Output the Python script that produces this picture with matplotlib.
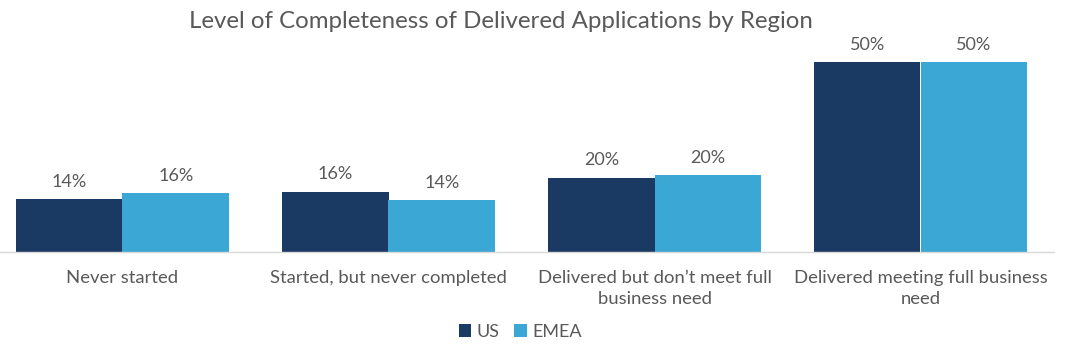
import numpy as np
import matplotlib.pyplot as plt

categories = ["Never started", "Started, but never completed",
              "Delivered but don\u2019t meet full\nbusiness need",
              "Delivered meeting full business\nneed"]
us = [13.9, 15.9, 19.6, 50.0]
emea = [15.6, 13.6, 20.3, 50.0]

navy = "#1B3A63"
blue = "#3BA7D4"
grey = "#595959"

plt.rcParams['font.family'] = ['Lato', 'DejaVu Sans']

fig = plt.figure(figsize=(10.75, 3.53), dpi=100)
ax = fig.add_axes([-10.5/1075, 101/353, 1064/1075, 209/353])

x = np.arange(len(categories))
w = 0.4
b1 = ax.bar(x - w/2, us, w, color=navy, label="US", zorder=2)
b2 = ax.bar(x + w/2, emea, w, color=blue, label="EMEA", zorder=2)

for bars in (b1, b2):
    for r in bars:
        ax.text(r.get_x() + r.get_width()/2, r.get_height() + 2.4,
                "{:.0f}%".format(r.get_height()), ha="center", va="bottom",
                fontsize=13, color=grey)

ax.set_xlim(-0.5, 3.5)
ax.set_ylim(0, 55)
ax.set_yticks([])
ax.set_xticks(x)
ax.set_xticklabels(categories, fontsize=13.3, color=grey, linespacing=1.4)
ax.tick_params(axis="x", length=0, pad=13)
for s in ["top", "right", "left"]:
    ax.spines[s].set_visible(False)
ax.spines["bottom"].set_color("#D9D9D9")
ax.spines["bottom"].set_linewidth(1)

fig.suptitle("Level of Completeness of Delivered Applications by Region",
             x=0.466, y=0.97, fontsize=17.3, color=grey)

fig.legend(handles=[b1, b2], loc="center", bbox_to_anchor=(0.484, 0.06),
           ncol=2, frameon=False, fontsize=13, handlelength=0.7,
           handleheight=0.7, handletextpad=0.3, columnspacing=0.8,
           labelcolor=grey)

fig.savefig("out.png", dpi=100)
